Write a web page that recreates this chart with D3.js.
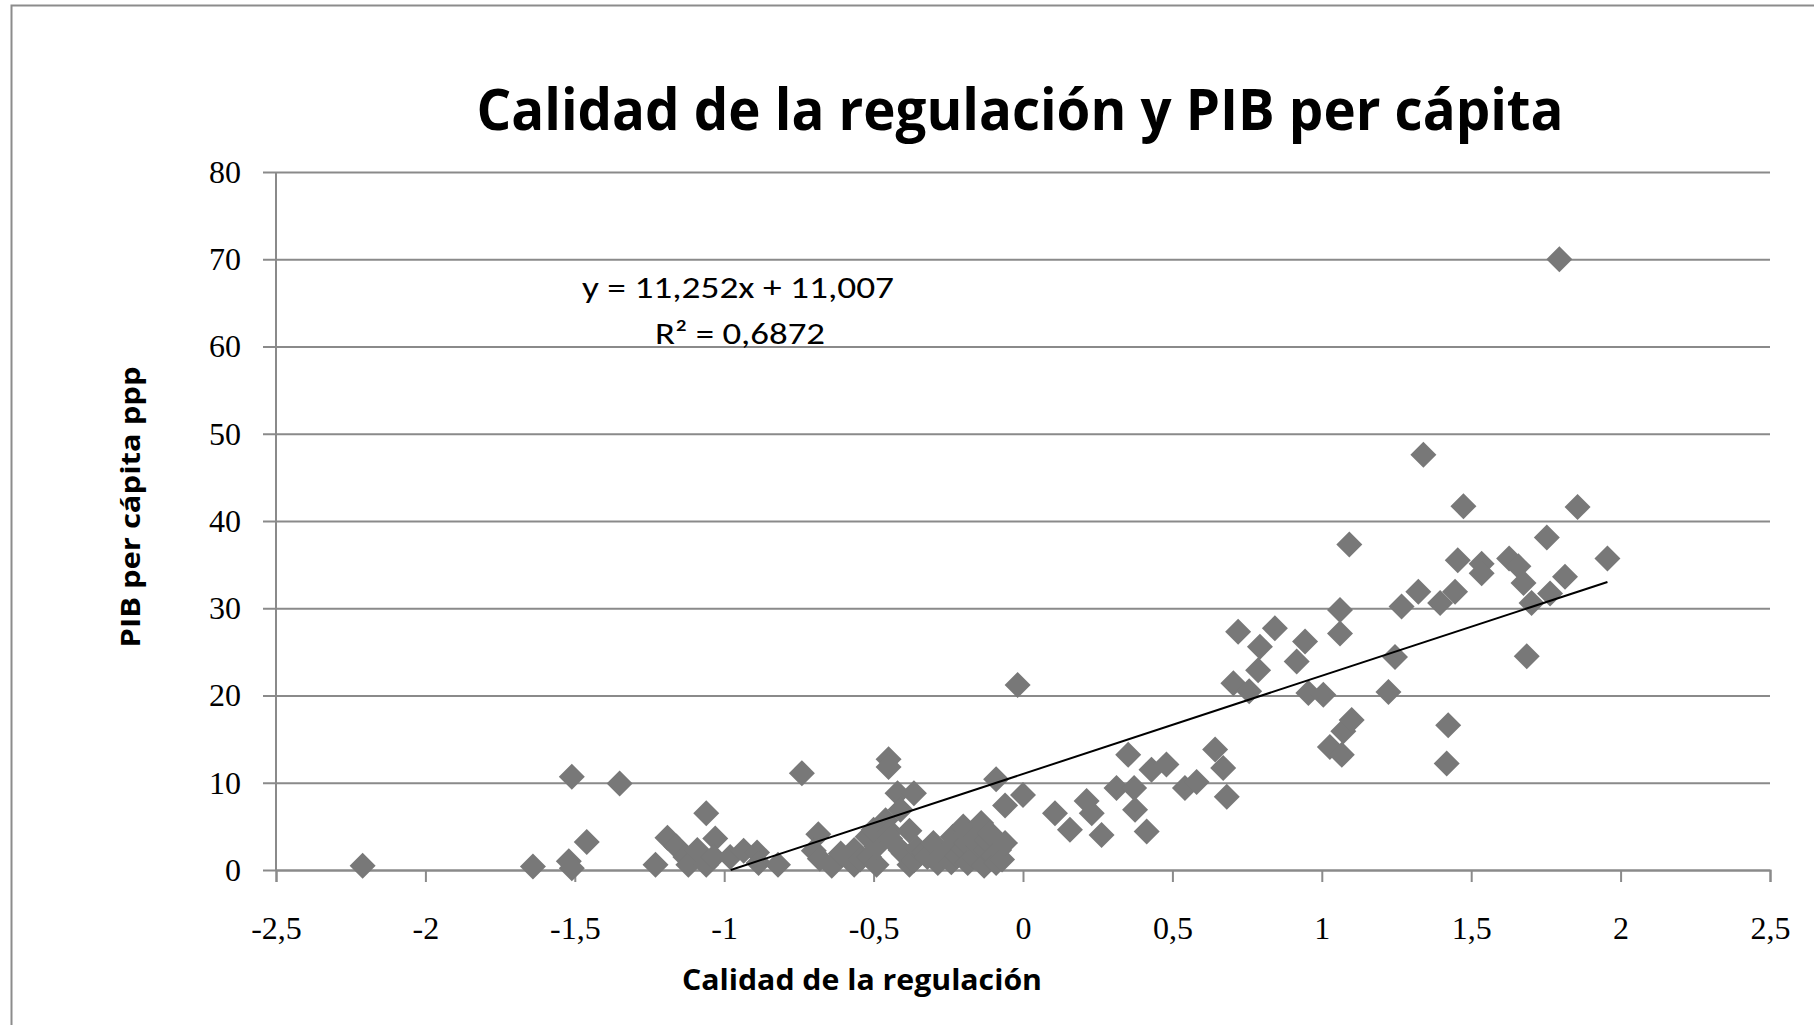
<!DOCTYPE html>
<html>
<head>
<meta charset="utf-8">
<script src="https://d3js.org/d3.v7.min.js"></script>
<style>
  body { margin: 0; background: #fff; }
  svg { display: block; }
</style>
</head>
<body>
<script>
  // valores (calidad de la regulacion, PIB per capita ppp)
  var calidad = [
    -2.21, -1.64, -1.52, -1.51, -1.51, -1.46, -1.35, -1.23, -1.19, -1.16,
    -1.13, -1.12, -1.09, -1.06, -1.06, -1.03, -1.035, -0.98, -0.935, -0.89,
    -0.885, -0.82, -0.74, -0.685, -0.70, -0.68, -0.64, -0.61, -0.565, -0.565,
    -0.545, -0.52, -0.515, -0.49, -0.49, -0.50, -0.48, -0.46, -0.45, -0.45,
    -0.445, -0.445, -0.42, -0.41, -0.41, -0.40, -0.38, -0.38, -0.365, -0.365,
    -0.355, -0.33, -0.32, -0.30, -0.285, -0.27, -0.255, -0.24, -0.235, -0.23,
    -0.22, -0.20, -0.20, -0.19, -0.185, -0.19, -0.16, -0.155, -0.15, -0.14,
    -0.13, -0.125, -0.12, -0.11, -0.10, -0.09, -0.08, -0.07, -0.06, -0.09,
    -0.06, 0.0, -0.018,
    0.107, 0.157, 0.213, 0.23, 0.263, 0.313, 0.352, 0.372, 0.375, 0.414,
    0.43, 0.48, 0.542, 0.581, 0.643, 0.670, 0.682, 0.704, 0.72, 0.757,
    0.787, 0.793, 0.843, 0.916, 0.944, 0.955, 1.005, 1.027, 1.061, 1.061,
    1.067, 1.072, 1.092, 1.10, 1.223, 1.245, 1.267, 1.323, 1.34, 1.396,
    1.418, 1.423, 1.446, 1.455, 1.474, 1.535, 1.535, 1.627, 1.658, 1.675,
    1.686, 1.702, 1.753, 1.764, 1.795, 1.814, 1.856, 1.956
  ];
  var pib = [
    0.5, 0.4, 1.0, 0.2, 10.7, 3.2, 9.9, 0.6, 3.7, 2.7,
    1.5, 0.6, 2.3, 6.5, 0.6, 3.6, 1.5, 1.5, 2.2, 2.0,
    0.8, 0.6, 11.1, 4.1, 2.2, 1.3, 0.5, 1.9, 0.6, 2.3,
    1.2, 3.8, 1.5, 0.6, 2.7, 4.6, 4.6, 5.7, 12.7, 11.8,
    4.4, 3.6, 8.8, 6.9, 2.3, 1.9, 4.5, 0.6, 8.8, 1.1,
    2.5, 2.0, 1.5, 3.1, 0.8, 1.8, 2.3, 0.9, 3.8, 3.0,
    1.6, 2.4, 5.0, 3.1, 0.8, 4.2, 1.4, 3.8, 2.9, 5.4,
    0.5, 2.3, 3.4, 4.2, 1.6, 0.8, 2.3, 1.2, 3.1, 10.4,
    7.4, 8.6, 21.2,
    6.5, 4.6, 7.9, 6.5, 4.0, 9.4, 13.2, 9.4, 6.9, 4.4,
    11.5, 12.1, 9.4, 10.1, 13.8, 11.7, 8.4, 21.4, 27.3, 20.5,
    22.9, 25.6, 27.7, 23.9, 26.2, 20.3, 20.1, 14.1, 29.8, 27.1,
    13.2, 15.9, 37.3, 17.2, 20.4, 24.4, 30.2, 31.9, 47.6, 30.6,
    12.2, 16.6, 31.9, 35.5, 41.7, 35.1, 34.0, 35.7, 34.8, 32.9,
    24.5, 30.6, 38.1, 31.7, 70.0, 33.6, 41.6, 35.7
  ];

  var xTicks = [-2.5, -2, -1.5, -1, -0.5, 0, 0.5, 1, 1.5, 2, 2.5];
  var yTicks = [0, 10, 20, 30, 40, 50, 60, 70, 80];

  // linea de tendencia lineal de Excel
  var pendiente = 11.252;
  var intercepto = 11.007;
  var ecuacion = ["y = 11,252x + 11,007", "R² = 0,6872"];

  var titulo = "Calidad de la regulación y PIB per cápita";
  var tituloX = "Calidad de la regulación";
  var tituloY = "PIB  per cápita ppp";

  var width = 1814, height = 1025;
  var margin = { top: 172, right: 44, bottom: 155, left: 276 };

  var fmt = function(d) { return String(d).replace(".", ","); };

  var svg = d3.select("body")
    .append("svg")
    .attr("width", width)
    .attr("height", height);

  svg.append("rect")
    .attr("width", width)
    .attr("height", height)
    .attr("fill", "#fff");

  // marco del grafico
  svg.append("rect")
    .attr("x", 11.5)
    .attr("y", 5.5)
    .attr("width", 1900)
    .attr("height", 1100)
    .attr("fill", "none")
    .attr("stroke", "#8c8c8c")
    .attr("stroke-width", 2);

  var x = d3.scaleLinear()
    .domain([-2.5, 2.5])
    .range([margin.left, width - margin.right]);

  var y = d3.scaleLinear()
    .domain([0, 80])
    .range([height - margin.bottom, margin.top]);

  // lineas de cuadricula + ticks del eje y
  var yAxis = svg.append("g")
    .attr("transform", "translate(" + margin.left + ",0)")
    .call(d3.axisLeft(y)
      .tickValues(yTicks)
      .tickSize(13)
      .tickPadding(22)
      .tickFormat(fmt));
  yAxis.select(".domain").remove();
  yAxis.selectAll(".tick line")
    .attr("x2", x(2.5) - margin.left)
    .attr("x1", -13)
    .attr("stroke", "#8a8a8a")
    .attr("stroke-width", 2);
  yAxis.selectAll(".tick text")
    .attr("font-family", "'Liberation Serif', 'DejaVu Serif', serif")
    .attr("font-size", 32)
    .attr("fill", "#000");

  svg.append("line")
    .attr("x1", margin.left).attr("x2", margin.left)
    .attr("y1", y(80)).attr("y2", y(0))
    .attr("stroke", "#8a8a8a")
    .attr("stroke-width", 2);

  var xAxis = svg.append("g")
    .attr("transform", "translate(0," + y(0) + ")")
    .call(d3.axisBottom(x)
      .tickValues(xTicks)
      .tickSize(12)
      .tickPadding(34)
      .tickFormat(fmt));
  xAxis.select(".domain")
    .attr("stroke", "#8a8a8a")
    .attr("stroke-width", 2);
  xAxis.selectAll(".tick line")
    .attr("stroke", "#8a8a8a")
    .attr("stroke-width", 2);
  xAxis.selectAll(".tick text")
    .attr("font-family", "'Liberation Serif', 'DejaVu Serif', serif")
    .attr("font-size", 32)
    .attr("fill", "#000");

  // puntos en forma de rombo
  var puntos = calidad.map(function(d, i) { return { x: d, y: pib[i] }; });
  var rombo = d3.symbol().type(d3.symbolSquare).size(338);

  svg.append("g")
    .selectAll("path")
    .data(puntos)
    .enter()
    .append("path")
    .attr("d", rombo)
    .attr("transform", function(d) {
      return "translate(" + x(d.x) + "," + y(d.y) + ") rotate(45)";
    })
    .attr("fill", "#787878");

  // tendencia: desde donde cruza y=0 hasta el maximo de x
  var x0 = Math.max(d3.min(calidad), -intercepto / pendiente);
  var x1 = d3.max(calidad);
  svg.append("line")
    .attr("x1", x(x0)).attr("y1", y(pendiente * x0 + intercepto))
    .attr("x2", x(x1)).attr("y2", y(pendiente * x1 + intercepto))
    .attr("stroke", "#000")
    .attr("stroke-width", 2);

  // ecuacion
  svg.append("text")
    .attr("x", 738).attr("y", 298)
    .attr("text-anchor", "middle")
    .attr("font-family", "Carlito, 'Open Sans', sans-serif")
    .attr("font-size", 30)
    .attr("textLength", 312)
    .attr("lengthAdjust", "spacingAndGlyphs")
    .text(ecuacion[0]);
  svg.append("text")
    .attr("x", 740).attr("y", 344)
    .attr("text-anchor", "middle")
    .attr("font-family", "Carlito, 'Open Sans', sans-serif")
    .attr("font-size", 30)
    .attr("textLength", 170)
    .attr("lengthAdjust", "spacingAndGlyphs")
    .text(ecuacion[1]);

  // titulos
  svg.append("text")
    .attr("x", 1020).attr("y", 130)
    .attr("text-anchor", "middle")
    .attr("font-family", "'Open Sans', 'Noto Sans', sans-serif")
    .attr("font-weight", "bold")
    .attr("font-size", 58)
    .attr("textLength", 1087)
    .attr("lengthAdjust", "spacingAndGlyphs")
    .text(titulo);

  svg.append("text")
    .attr("x", 862).attr("y", 990)
    .attr("text-anchor", "middle")
    .attr("font-family", "'Open Sans', 'Noto Sans', sans-serif")
    .attr("font-weight", "bold")
    .attr("font-size", 28)
    .attr("textLength", 360)
    .attr("lengthAdjust", "spacingAndGlyphs")
    .text(tituloX);

  svg.append("text")
    .attr("transform", "translate(140,507) rotate(-90)")
    .attr("text-anchor", "middle")
    .attr("font-family", "'Open Sans', 'Noto Sans', sans-serif")
    .attr("font-weight", "bold")
    .attr("font-size", 27)
    .attr("textLength", 281)
    .attr("lengthAdjust", "spacingAndGlyphs")
    .text(tituloY);
</script>
</body>
</html>
